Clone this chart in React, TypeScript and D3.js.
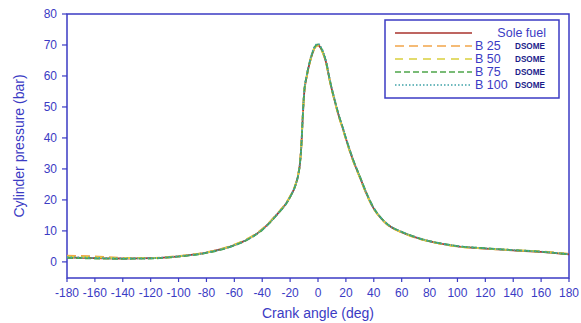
import React from 'react';
import * as d3 from 'd3';

// crank angle (deg)
const angles = [-180, -160, -140, -120, -100, -80, -60, -50, -40, -30, -20, -16, -14, -13, -12, -11, -10, -8, -6, -4, -2, 0, 2, 4, 6, 8, 10, 12, 15, 18, 20, 25, 30, 35, 40, 45, 50, 60, 70, 80, 90, 100, 120, 140, 160, 180];

// cylinder pressure (bar)
const soleFuel = [1.4, 1.2, 1.1, 1.2, 1.8, 3.0, 5.4, 7.4, 10.4, 15, 21, 25, 28.5, 31.5, 37, 46, 54, 60, 64.2, 67.3, 69.4, 70, 69, 67, 64, 59.5, 55.5, 52, 47, 42.8, 39.8, 33, 27.4, 21.8, 17.2, 14.2, 12, 9.6, 7.9, 6.6, 5.7, 5.0, 4.3, 3.7, 3.2, 2.4];
const b25 = [2.0, 1.8, 1.3, 1.3, 1.9, 3.1, 5.6, 7.6, 10.6, 15.2, 21.2, 25.2, 28.7, 31.8, 37.5, 46.5, 54.3, 60.2, 64.3, 67.3, 69.3, 69.8, 68.8, 66.8, 63.8, 59.3, 55.3, 51.8, 46.8, 42.6, 39.6, 32.8, 27.2, 21.6, 17.1, 14.1, 11.9, 9.5, 7.8, 6.6, 5.7, 5.0, 4.3, 3.8, 3.4, 2.6];
const b50 = [1.7, 1.5, 1.2, 1.2, 1.8, 3.0, 5.5, 7.5, 10.5, 15.1, 21.1, 25.1, 28.6, 31.6, 37.2, 46.2, 54.1, 60.1, 64.2, 67.3, 69.4, 69.9, 68.9, 66.9, 63.9, 59.4, 55.4, 51.9, 46.9, 42.7, 39.7, 32.9, 27.3, 21.7, 17.2, 14.2, 12, 9.6, 7.9, 6.6, 5.7, 5.0, 4.3, 3.8, 3.3, 2.5];
const b75 = [1.3, 1.1, 1.0, 1.1, 1.7, 2.9, 5.3, 7.3, 10.3, 14.9, 20.9, 24.9, 28.4, 31.4, 37, 46.2, 54.2, 60.2, 64.4, 67.5, 69.6, 70.2, 69.2, 67.2, 64.2, 59.7, 55.7, 52.2, 47.2, 43, 40, 33.2, 27.6, 22, 17.4, 14.3, 12.1, 9.7, 8.0, 6.7, 5.8, 5.1, 4.4, 3.8, 3.3, 2.4];
const b100 = [1.5, 1.3, 1.1, 1.2, 1.8, 3.0, 5.4, 7.4, 10.4, 15, 21, 25, 28.5, 31.5, 37.1, 46.3, 54.4, 60.4, 64.6, 67.7, 69.8, 70.4, 69.4, 67.4, 64.4, 59.8, 55.8, 52.3, 47.3, 43.1, 40.1, 33.2, 27.5, 21.9, 17.3, 14.3, 12.1, 9.7, 8.0, 6.7, 5.8, 5.1, 4.4, 3.8, 3.3, 2.5];

const xTicks = d3.range(-180, 181, 20);
const yTicks = d3.range(0, 81, 10);

const series = [
  { name: 'Sole fuel', sub: '', values: soleFuel, color: '#a8322d', dash: '' },
  { name: 'B 25', sub: 'DSOME', values: b25, color: '#f2a54a', dash: '9,5' },
  { name: 'B 50', sub: 'DSOME', values: b50, color: '#d9cf3c', dash: '8,6' },
  { name: 'B 75', sub: 'DSOME', values: b75, color: '#4da54a', dash: '6,3' },
  { name: 'B 100', sub: 'DSOME', values: b100, color: '#3fa3a8', dash: '1.5,2' },
];

const blue = '#3b3bc4';
const font = '"Liberation Sans", Arial, sans-serif';

export default function App() {
  const width = 581;
  const height = 323;
  const left = 67, right = 569, top = 14, bottom = 278;

  const x = d3.scaleLinear().domain([-180, 180]).range([left, right]);
  const y = d3.scaleLinear().domain([-5.2, 80]).range([bottom, top]);

  const line = d3
    .line<number>()
    .x((_, i) => x(angles[i]))
    .y((d) => y(d))
    .curve(d3.curveMonotoneX);

  return (
    <svg width={width} height={height} style={{ position: 'absolute', left: 0, top: 0, background: '#fff' }}>
      {/* plot frame */}
      <rect x={left} y={top} width={right - left} height={bottom - top} fill="none" stroke={blue} strokeWidth={1.5} />

      {/* y axis */}
      {yTicks.map((t) => (
        <g key={'y' + t}>
          <line x1={left - 5} x2={left} y1={y(t)} y2={y(t)} stroke={blue} strokeWidth={1.2} />
          <text x={left - 10} y={y(t)} dy="0.35em" textAnchor="end" fontFamily={font} fontSize={12} fill={blue}>
            {t}
          </text>
        </g>
      ))}

      {/* x axis */}
      {xTicks.map((t) => (
        <g key={'x' + t}>
          <line x1={x(t)} x2={x(t)} y1={bottom} y2={bottom + 4} stroke={blue} strokeWidth={1.2} />
          <text x={x(t)} y={bottom + 19} textAnchor="middle" fontFamily={font} fontSize={12} fill={blue}>
            {t}
          </text>
        </g>
      ))}

      <text
        transform={`translate(24,${(top + bottom) / 2}) rotate(-90)`}
        textAnchor="middle"
        fontFamily={font}
        fontSize={14}
        fill={blue}
      >
        Cylinder pressure (bar)
      </text>
      <text x={(left + right) / 2} y={318} textAnchor="middle" fontFamily={font} fontSize={14} fill={blue}>
        Crank angle (deg)
      </text>

      {/* curves */}
      {series.map((s) => (
        <path
          key={s.name}
          d={line(s.values) || ''}
          fill="none"
          stroke={s.color}
          strokeWidth={1.8}
          strokeDasharray={s.dash || undefined}
        />
      ))}

      {/* legend */}
      <rect x={385} y={20} width={174} height={78} fill="#fff" stroke={blue} strokeWidth={1.5} />
      {series.map((s, i) => {
        const ly = 33 + i * 13;
        return (
          <g key={'l' + s.name}>
            <line x1={395} x2={472} y1={ly} y2={ly} stroke={s.color} strokeWidth={1.5} strokeDasharray={s.dash || undefined} />
            {s.sub ? (
              <>
                <text x={475} y={ly} dy="0.35em" fontFamily={font} fontSize={12.5} fill={blue}>
                  {s.name}
                </text>
                <text
                  x={515}
                  y={ly}
                  dy="0.35em"
                  fontFamily={font}
                  fontSize={9}
                  fontWeight="bold"
                  fill="#1c1c8a"
                  textLength={30}
                  lengthAdjust="spacingAndGlyphs"
                >
                  {s.sub}
                </text>
              </>
            ) : (
              <text x={546} y={ly} dy="0.35em" textAnchor="end" fontFamily={font} fontSize={12.5} fill={blue}>
                {s.name}
              </text>
            )}
          </g>
        );
      })}
    </svg>
  );
}
